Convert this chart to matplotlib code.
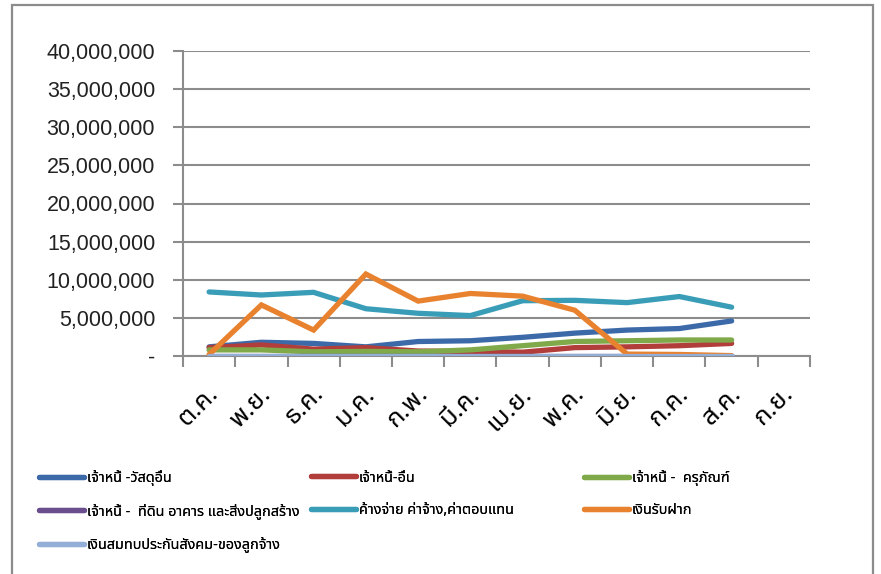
import numpy as np
import matplotlib
matplotlib.use("Agg")
import matplotlib.pyplot as plt
from matplotlib import font_manager
from matplotlib.ft2font import FT2Font
from matplotlib.lines import Line2D
from matplotlib.patches import Rectangle
from matplotlib.ticker import FuncFormatter
import matplotlib.transforms as mtransforms


months = ["ต.ค.", "พ.ย.", "ธ.ค.", "ม.ค.", "ก.พ.", "มี.ค.",
          "เม.ย.", "พ.ค.", "มิ.ย.", "ก.ค.", "ส.ค.", "ก.ย."]

series_names = [
    "เจ้าหนี้ -วัสดุอื่น",
    "เจ้าหนี้-อื่น",
    "เจ้าหนี้ -  ครุภัณฑ์",
    "เจ้าหนี้ -  ที่ดิน อาคาร และสิ่งปลูกสร้าง",
    "ค้างจ่าย ค่าจ้าง,ค่าตอบแทน",
    "เงินรับฝาก",
    "เงินสมทบประกันสังคม-ของลูกจ้าง",
]

# values in millions of baht, no data yet for ก.ย.
nan = np.nan
materials = [1.2, 1.8, 1.65, 1.2, 1.9, 2.0, 2.45, 3.0, 3.4, 3.6, 4.6, nan]
other = [1.1, 1.45, 0.9, 1.1, 0.65, 0.6, 0.5, 1.1, 1.2, 1.35, 1.65, nan]
equipment = [0.8, 0.8, 0.55, 0.6, 0.55, 0.8, 1.35, 1.9, 2.0, 2.1, 2.1, nan]
land = [0.0, 0.0, 0.0, 0.0, 0.0, 0.0, 0.0, 0.0, 0.0, 0.0, 0.0, nan]
wages = [8.4, 8.0, 8.35, 6.2, 5.6, 5.3, 7.25, 7.3, 7.0, 7.8, 6.4, nan]
deposits = [0.2, 6.7, 3.4, 10.75, 7.2, 8.2, 7.85, 6.0, 0.25, 0.2, 0.05, nan]
social = [0.05, 0.05, 0.05, 0.05, 0.05, 0.05, 0.05, 0.05, 0.05, 0.05, 0.05, nan]

series_values = [materials, other, equipment, land, wages, deposits, social]
series_colors = ["#3C6AA8", "#B23E3B", "#80A94A", "#6A4E8E",
                 "#3A9DB8", "#E8822F", "#93AFD7"]


def find_thai_font():
    preferred = ["Tahoma", "Noto Sans Thai", "Noto Sans Thai UI", "Loma",
                 "Garuda", "Norasi", "Waree", "Sawasdee", "Umpush",
                 "Kinnari", "Sarabun", "Noto Serif Thai", "Laksaman"]
    found = {}
    for f in font_manager.fontManager.ttflist:
        try:
            cmap = FT2Font(f.fname).get_charmap()
        except Exception:
            continue
        if 0x0E01 in cmap and 0x0E49 in cmap:
            found.setdefault(f.name, f.fname)
    for name in preferred:
        if name in found:
            return name
    if found:
        return sorted(found)[0]
    return None


thai = find_thai_font()
families = ([thai] if thai else []) + ["DejaVu Sans"]
plt.rcParams["font.family"] = families

fig = plt.figure(figsize=(8.81, 5.74), dpi=100)
ax = fig.add_axes([183 / 881, 1 - 356 / 574, 627 / 881, 305 / 574])

# chart frame
fig.patches.append(Rectangle((12 / 881, -0.05), 861 / 881, 1 - 5 / 574 + 0.05,
                             transform=fig.transFigure, fill=False,
                             edgecolor="#8C8C8C", linewidth=1.6))

x = np.arange(len(months))
for vals, color in zip(series_values, series_colors):
    ax.plot(x, np.array(vals) * 1_000_000, color=color, linewidth=3.8,
            solid_capstyle="round", solid_joinstyle="miter", zorder=3)

ax.set_xlim(-0.5, len(months) - 0.5)
ax.set_ylim(0, 40_000_000)
ax.set_yticks(np.arange(0, 40_000_001, 5_000_000))
ax.yaxis.set_major_formatter(FuncFormatter(
    lambda v, p: "-" if v == 0 else f"{int(v):,}"))
ax.grid(axis="y", color="#8C8C8C", linewidth=1.5, zorder=1)
ax.tick_params(axis="y", length=7, width=1.5, color="#8C8C8C", pad=13,
               labelsize=15.5, labelcolor="#222222")
for lab in ax.get_yticklabels():
    lab.set_family(["Liberation Sans Narrow", "Liberation Sans"])

ax.set_xticks(x)
ax.set_xticklabels(months, rotation=45, ha="right", va="top",
                   rotation_mode="anchor", fontsize=18.5, fontweight="bold")
ax.set_xticks(np.arange(-0.5, len(months), 1), minor=True)
ax.tick_params(axis="x", which="major", length=0, pad=18)
ax.tick_params(axis="x", which="minor", length=8, width=1.5, color="#8C8C8C")
offset = mtransforms.ScaledTranslation(-3 / 100, 0, fig.dpi_scale_trans)
for lab in ax.get_xticklabels():
    lab.set_transform(lab.get_transform() + offset)

for side in ["top", "right"]:
    ax.spines[side].set_visible(False)
for side in ["left", "bottom"]:
    ax.spines[side].set_color("#8C8C8C")
    ax.spines[side].set_linewidth(1.5)

# legend laid out as a 3-column grid, filled row by row
legend_cols = [39, 311, 584]
legend_rows = [478, 511, 545]
for i, (name, color) in enumerate(zip(series_names, series_colors)):
    handle = Line2D([], [], color=color, linewidth=3.8, solid_capstyle="round")
    leg = fig.legend([handle], [name], loc="center left",
                     bbox_to_anchor=(legend_cols[i % 3] / 881,
                                     1 - legend_rows[i // 3] / 574),
                     frameon=False, fontsize=10.4, handlelength=3.1,
                     handletextpad=0.2, borderaxespad=0, borderpad=0)
    fig.add_artist(leg)

fig.savefig("out.png", dpi=100)
